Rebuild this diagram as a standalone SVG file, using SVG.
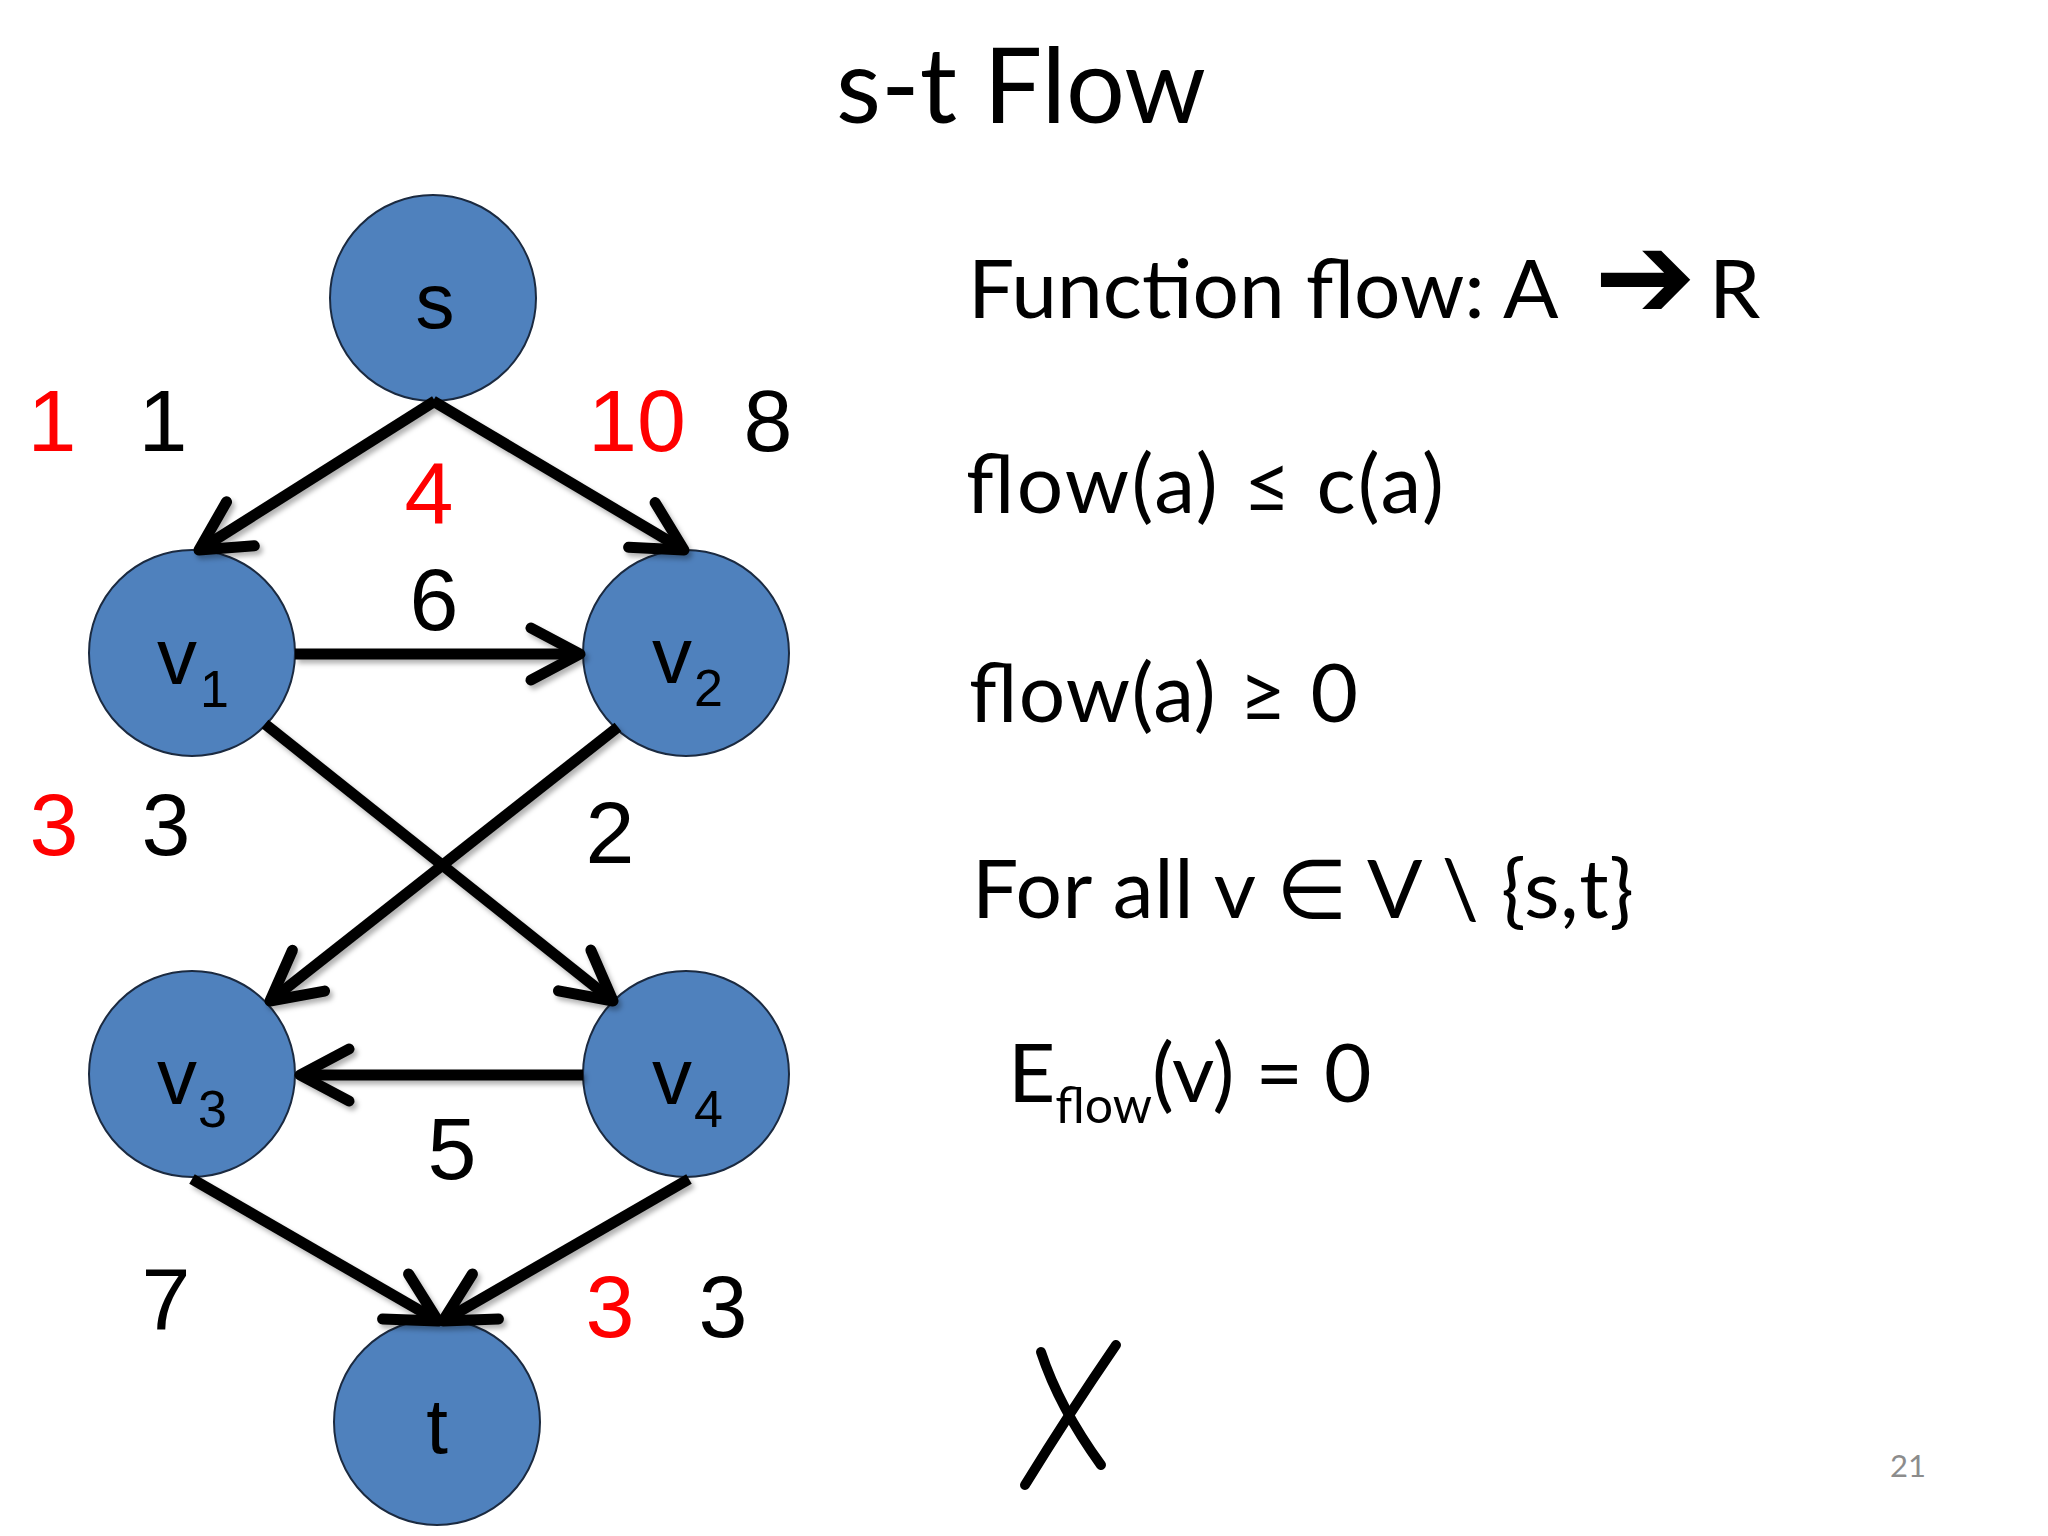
<svg xmlns="http://www.w3.org/2000/svg" width="2048" height="1536" viewBox="0 0 2048 1536">
<style>
.node{fill:#4F81BD;stroke:#1b2a40;stroke-width:2}
.nl{font-family:"Liberation Sans",Arial,sans-serif;font-size:80px;fill:#000}
.sub{font-family:"Liberation Sans",Arial,sans-serif;font-size:52px;fill:#000}
.el{font-family:"Liberation Sans",Arial,sans-serif;font-size:88px;fill:#000;text-anchor:middle}
.red{fill:#FF0000}
.tx{font-family:Lato,"DejaVu Sans",sans-serif;font-size:82px;fill:#000}
.edge{stroke:#000;stroke-width:11;fill:none;marker-end:url(#arr)}
</style>
<defs>
<marker id="arr" markerUnits="userSpaceOnUse" markerWidth="120" markerHeight="120" viewBox="-60 -60 120 120" refX="0" refY="0" orient="auto" overflow="visible">
<path d="M-49,-26 L0,0 L-49,26" fill="none" stroke="#000" stroke-width="11" stroke-linecap="round" stroke-linejoin="round"/>
</marker>
<filter id="sh" x="-10%" y="-10%" width="120%" height="120%">
<feDropShadow dx="3" dy="4" stdDeviation="2.5" flood-color="#000" flood-opacity="0.3"/>
</filter>
</defs>
<rect width="2048" height="1536" fill="#fff"/>

<text class="tx" x="1021" y="123" text-anchor="middle" style="font-size:104px">s-t Flow</text>

<g id="node-s"><circle class="node" cx="433" cy="298" r="103"/><text class="nl" x="435" y="328" text-anchor="middle" style="font-size:78px">s</text></g>
<g id="node-v1"><circle class="node" cx="192" cy="653" r="103"/><text class="nl" x="157" y="684">v</text><text class="sub" x="200" y="707">1</text></g>
<g id="node-v2"><circle class="node" cx="686" cy="653" r="103"/><text class="nl" x="652" y="683">v</text><text class="sub" x="694" y="706">2</text></g>
<g id="node-v3"><circle class="node" cx="192" cy="1074" r="103"/><text class="nl" x="157" y="1104">v</text><text class="sub" x="198" y="1127">3</text></g>
<g id="node-v4"><circle class="node" cx="686" cy="1074" r="103"/><text class="nl" x="652" y="1104">v</text><text class="sub" x="694" y="1127">4</text></g>
<g id="node-t"><circle class="node" cx="437" cy="1422" r="103"/><text class="nl" x="437" y="1453" text-anchor="middle" style="font-size:78px">t</text></g>

<g id="connectors" filter="url(#sh)">
<path class="edge" d="M435,401 L199,550"/>
<path class="edge" d="M433,401 L684,550"/>
<path class="edge" d="M295,654 L580,654"/>
<path class="edge" d="M265,724 L613,1001"/>
<path class="edge" d="M618,727 L270,1001"/>
<path class="edge" d="M583,1075 L300,1075"/>
<path class="edge" d="M192,1179 L438,1321"/>
<path class="edge" d="M689,1179 L443,1321"/>
</g>

<g id="edge-labels">
<text class="el red" x="52" y="451">1</text>
<text class="el" x="163" y="451">1</text>
<text class="el red" x="637" y="451">10</text>
<text class="el" x="768" y="451">8</text>
<text class="el red" x="429" y="524">4</text>
<text class="el" x="434" y="630">6</text>
<text class="el red" x="54" y="855">3</text>
<text class="el" x="166" y="855">3</text>
<text class="el" x="610" y="863">2</text>
<text class="el" x="452" y="1179">5</text>
<text class="el" x="166" y="1330">7</text>
<text class="el red" x="610" y="1337">3</text>
<text class="el" x="723" y="1337">3</text>
</g>

<g id="text">
<text class="tx" x="968" y="318">Function flow: A <tspan x="1594" y="318" style="font-family:'DejaVu Sans',sans-serif;font-size:122px;font-weight:bold">➔</tspan><tspan x="1709" y="318">R</tspan></text>
<text class="tx" x="966" y="513" textLength="478" lengthAdjust="spacing">flow(a) ≤ c(a)</text>
<text class="tx" x="969" y="722" textLength="389" lengthAdjust="spacing">flow(a) ≥ 0</text>
<text class="tx" x="972" y="918" textLength="662" lengthAdjust="spacing">For all v ∈ V \ {s,t}</text>
<text class="tx" x="1008" y="1102">E<tspan y="1123" style="font-size:50px">flow</tspan><tspan y="1102">(v) = 0</tspan></text>
</g>

<g id="xmark" fill="none" stroke="#000" stroke-width="10" stroke-linecap="round">
<path d="M1041,1352 Q1059,1407 1101,1465"/>
<path d="M1116,1345 Q1070,1412 1025,1485"/>
</g>

<text x="1908" y="1477" text-anchor="middle" style="font-family:Lato,sans-serif;font-size:31px;fill:#8c8c8c">21</text>
</svg>
